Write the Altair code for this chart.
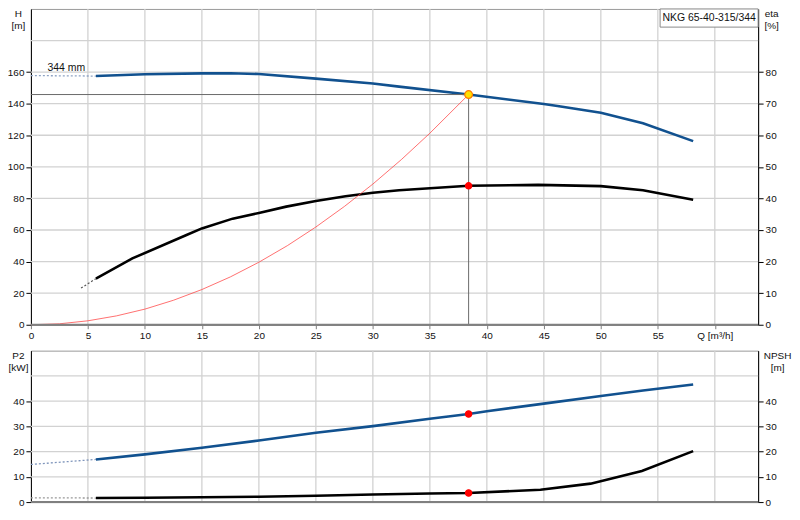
import altair as alt
import pandas as pd

FONT = "Liberation Sans"
BLUE = "#11518f"

# ---------------- data ----------------
q_ticks = [0, 5, 10, 15, 20, 25, 30, 35, 40, 45, 50, 55, 60]
q_grid = [5, 10, 15, 20, 25, 30, 35, 40, 45, 50, 55, 60]
h_ticks = [0, 20, 40, 60, 80, 100, 120, 140, 160]
h_grid = [20, 40, 60, 80, 100, 120, 140, 160, 180]
eta_ticks = [0, 10, 20, 30, 40, 50, 60, 70, 80]
p_ticks = [0, 10, 20, 30, 40]
p_grid = [10, 20, 30, 40, 50]
npsh_ticks = [0, 10, 20, 30, 40]
base_line = [0]

q_h = [5.7, 10, 15, 17.5, 20, 25, 30, 32.3, 38.4, 45, 46.2, 50, 53.7, 58.1]
h_vals = [157.5, 158.6, 159.2, 159.3, 158.8, 155.9, 152.8, 150.8, 145.8, 139.8, 138.5, 134.3, 127.6, 116.3]
q_h_ext = [0, 5.7]
h_ext = [157.8, 157.5]

q_eta = [5.7, 8.9, 13.65, 15, 17.7, 20, 22.4, 25, 27.6, 30, 32.3, 38.4, 44.5, 50, 53.7, 58.1]
eta_vals = [14.6, 21.0, 28.4, 30.5, 33.6, 35.4, 37.4, 39.2, 40.7, 41.8, 42.6, 44.0, 44.3, 43.9, 42.6, 39.6]
q_eta_ext = [4.4, 5.7]
eta_ext = [11.6, 14.6]

q_sys = [0, 2.5, 5, 7.5, 10, 12.5, 15, 17.5, 20, 22.5, 25, 27.5, 30, 32.5, 35, 38.4]
h_sys = [0, 0.6, 2.5, 5.6, 9.9, 15.5, 22.3, 30.3, 39.6, 50.1, 61.9, 74.9, 89.1, 104.6, 121.3, 145.8]

q_p2 = [5.7, 10, 15, 20, 25, 30, 35, 38.4, 40, 45, 50, 53.7, 58.1]
p2_vals = [16.9, 18.9, 21.5, 24.4, 27.5, 30.1, 33.0, 34.9, 36.0, 39.0, 42.0, 44.2, 46.6]
q_p2_ext = [0, 5.7]
p2_ext = [14.9, 16.9]

q_npsh = [5.7, 10, 15, 20, 25, 30, 35, 38.4, 44.7, 49.1, 53.6, 58.1]
npsh_vals = [1.6, 1.7, 1.9, 2.1, 2.5, 3.0, 3.4, 3.6, 4.9, 7.3, 12.3, 20.2]
q_npsh_ext = [0, 5.7]
npsh_ext = [1.7, 1.6]

q_op = 38.4
h_op = 145.8
eta_op = 44.0
p2_op = 34.9
npsh_op = 3.6

impeller_label = "344 mm"
impeller_q, impeller_h = 3.1, 161
title_text = "NKG 65-40-315/344"
box_q = [55.2, 63.8]
box_h = [188.5, 200]

Q_MAX = 63.8
W = 730
H_TOP = 317
H_BOT = 152
GRID = "#d2d2d2"
FS = 10

# ---------------- helpers ----------------
def xs():
    return alt.Scale(domain=[0, Q_MAX], nice=False, zero=False)

def ysc(lo, hi):
    return alt.Scale(domain=[lo, hi], nice=False, zero=False)


def df(q, v):
    return pd.DataFrame({"Q": q, "V": v})


def x_axis_top():
    return alt.Axis(
        values=q_ticks,
        grid=False,
        labelExpr="datum.value == 60 ? 'Q [m³/h]' : datum.label",
        tickSize=4,
        tickColor="#808080",
        domainColor="#808080",
        labelFlush=False,
        labelOverlap=False,
        labelPadding=2,
        title="",
    )


def x_axis_bot():
    return alt.Axis(
        values=q_ticks, grid=False, labels=False, ticks=False,
        domainColor="#808080", title="",
    )


def left_axis(values, title):
    return alt.Axis(
        values=values, grid=False, orient="left",
        tickSize=5, tickColor="#000000", domainColor="#000000",
        labelPadding=2, title=title, titleAngle=0, titleAlign="center",
        titleBaseline="top", titleX=-13, titleY=0,
        titleFontWeight="normal",
    )


def right_axis(values, title, tx):
    return alt.Axis(
        values=values, grid=False, orient="right",
        tickSize=5, tickColor="#000000", domainColor="#000000",
        labelPadding=2, title=title, titleAngle=0, titleAlign="center",
        titleBaseline="top", titleX=tx, titleY=0,
        titleFontWeight="normal",
    )


def line(data, lo, hi, color, width, xa, axis_y=None, dash=None, opacity=1):
    kw = dict(color=color, strokeWidth=width, opacity=opacity)
    if dash:
        kw["strokeDash"] = dash
    return alt.Chart(data).mark_line(**kw).encode(
        x=alt.X("Q:Q", scale=xs(), axis=xa()),
        y=alt.Y("V:Q", scale=ysc(lo, hi), axis=axis_y),
    )


def dot(q, v, lo, hi, fill, stroke, size, xa):
    return alt.Chart(df([q], [v])).mark_point(
        filled=True, fill=fill, stroke=stroke, strokeWidth=1.2, size=size, opacity=1
    ).encode(
        x=alt.X("Q:Q", scale=xs(), axis=xa()),
        y=alt.Y("V:Q", scale=ysc(lo, hi), axis=None),
    )


def vgrid(xa):
    return alt.Chart(pd.DataFrame({"Q": q_grid})).mark_rule(color=GRID, strokeWidth=1.3).encode(
        x=alt.X("Q:Q", scale=xs(), axis=xa())
    )


def hgrid(vals, lo, hi, color=GRID, width=1.3):
    return alt.Chart(pd.DataFrame({"V": vals})).mark_rule(color=color, strokeWidth=width).encode(
        y=alt.Y("V:Q", scale=ysc(lo, hi), axis=None)
    )


XT = x_axis_top
XB = x_axis_bot

# ---------------- top panel ----------------
h_main = line(df(q_h, h_vals), 0, 200, BLUE, 2.6, XT, axis_y=left_axis(h_ticks, ["H", "[m]"]))
h_dash = line(df(q_h_ext, h_ext), 0, 200, "#8ea3c4", 1.3, XT, dash=[2, 2])
sys_curve = line(df(q_sys, h_sys), 0, 200, "#ff4040", 1, XT, opacity=0.75)

op_lines = pd.DataFrame({"Q0": [0, q_op], "Q1": [q_op, q_op], "H0": [h_op, 0], "H1": [h_op, h_op]})
op_rule = alt.Chart(op_lines).mark_rule(color="#6a6a6a", strokeWidth=1).encode(
    x=alt.X("Q0:Q", scale=xs(), axis=XT()), x2="Q1:Q",
    y=alt.Y("H0:Q", scale=ysc(0, 200), axis=None), y2="H1:Q",
)
op_pt = dot(q_op, h_op, 0, 200, "#ffe000", "#ff7a00", 60, XT)

imp_txt = alt.Chart(pd.DataFrame({"Q": [impeller_q], "V": [impeller_h], "t": [impeller_label]})).mark_text(
    font=FONT, fontSize=10.5, color="#111111", align="center", baseline="alphabetic"
).encode(x=alt.X("Q:Q", scale=xs(), axis=XT()), y=alt.Y("V:Q", scale=ysc(0, 200), axis=None), text="t:N")

box = alt.Chart(pd.DataFrame({"Q0": [box_q[0]], "Q1": [box_q[1]], "H0": [box_h[0]], "H1": [box_h[1]]})).mark_rect(
    fill="#ffffff", stroke="#8a8a8a", strokeWidth=1
).encode(
    x=alt.X("Q0:Q", scale=xs(), axis=XT()), x2="Q1:Q",
    y=alt.Y("H0:Q", scale=ysc(0, 200), axis=None), y2="H1:Q",
)
box_txt = alt.Chart(pd.DataFrame({"Q": [(box_q[0] + box_q[1]) / 2], "V": [(box_h[0] + box_h[1]) / 2], "t": [title_text]})).mark_text(
    font=FONT, fontSize=10.5, color="#111111", align="center", baseline="middle"
).encode(x=alt.X("Q:Q", scale=xs(), axis=XT()), y=alt.Y("V:Q", scale=ysc(0, 200), axis=None), text="t:N")

eta_main = line(df(q_eta, eta_vals), 0, 100, "#000000", 2.6, XT,
                axis_y=right_axis(eta_ticks, ["eta", "[%]"], 13))
eta_dash = line(df(q_eta_ext, eta_ext), 0, 100, "#555555", 1.2, XT, dash=[2, 2])
eta_pt = dot(q_op, eta_op, 0, 100, "#ff0000", "#ff0000", 40, XT)

top = alt.layer(
    vgrid(XT), hgrid(h_grid, 0, 200), h_main, eta_main, h_dash, sys_curve, op_rule,
    imp_txt, box, box_txt, eta_dash, eta_pt, op_pt, hgrid(base_line, 0, 200, "#808080", 2),
).resolve_scale(y="independent").properties(width=W, height=H_TOP)

# ---------------- bottom panel ----------------
p2_main = line(df(q_p2, p2_vals), 0, 60, BLUE, 2.6, XB, axis_y=left_axis(p_ticks, ["P2", "[kW]"]))
p2_dash = line(df(q_p2_ext, p2_ext), 0, 60, "#7f95bb", 1.3, XB, dash=[2, 2])
p2_pt = dot(q_op, p2_op, 0, 60, "#ff0000", "#ff0000", 40, XB)

npsh_main = line(df(q_npsh, npsh_vals), 0, 60, "#000000", 2.6, XB,
                 axis_y=right_axis(npsh_ticks, ["NPSH", "[m]"], 19))
npsh_dash = line(df(q_npsh_ext, npsh_ext), 0, 60, "#999999", 1.3, XB, dash=[2, 2])
npsh_pt = dot(q_op, npsh_op, 0, 60, "#ff0000", "#ff0000", 40, XB)

bottom = alt.layer(
    vgrid(XB), hgrid(p_grid, 0, 60), p2_main, npsh_main, p2_dash, npsh_dash, p2_pt, npsh_pt,
    hgrid(base_line, 0, 60, "#808080", 2),
).resolve_scale(y="independent").properties(width=W, height=H_BOT)

chart = alt.vconcat(top, bottom, spacing=26, bounds="flush").configure(
    font=FONT, padding={"left": -2, "top": -2, "right": 0, "bottom": 0},
).configure_axis(
    labelFont=FONT, labelFontSize=FS, labelColor="#111111",
    titleFont=FONT, titleColor="#111111", titleFontSize=FS, titleLineHeight=11.5,
).configure_view(
    stroke="#9a9a9a", strokeWidth=1,
)

chart.save("out.html", embed_options={"renderer": "svg", "actions": False})
